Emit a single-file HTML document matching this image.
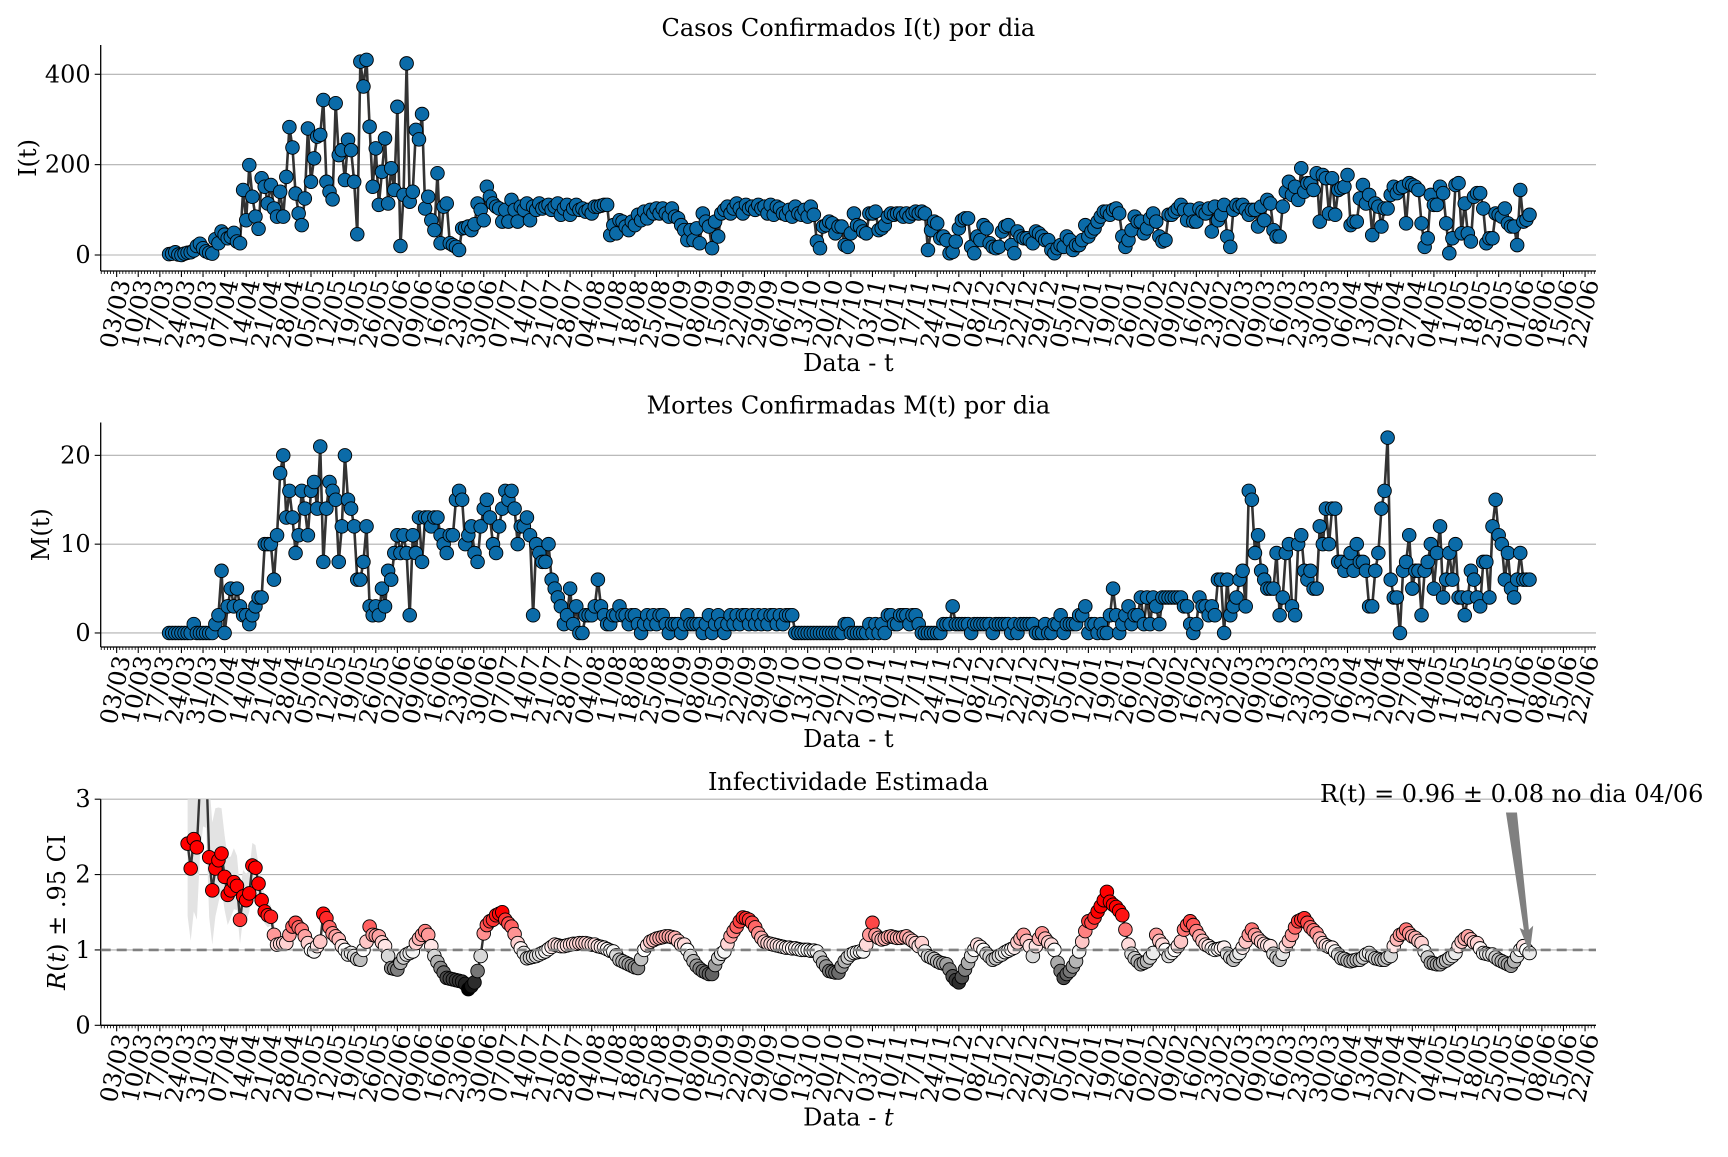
<!DOCTYPE html>
<html><head><meta charset="utf-8"><title>Casos, Mortes e Infectividade</title>
<style>
html,body{margin:0;padding:0;background:#fff;}
svg text{font-family:"DejaVu Serif","Liberation Serif",serif;fill:#000;}
</style></head>
<body>
<svg id="chart" width="1728" height="1152" viewBox="0 0 1728 1152" xmlns="http://www.w3.org/2000/svg">
<defs>
<clipPath id="clip3"><rect x="100.7" y="799.2" width="1496" height="226.1"/></clipPath>
</defs>
<g id="p1"></g>
<g id="p2"></g>
<g id="p3"></g>
</svg>
<script>
// ---- data ----
const startDateLabel = "2020-03-03";
const lastDay = 458; // 04/06/2021, days since 03/03/2020
const cases = [
2,3,6,1,0,3,5,6,10,20,
25,15,8,5,3,35,26,52,45,37,
40,49,30,26,144,77,199,129,85,58,
170,151,114,155,103,85,140,85,173,283,
238,136,92,66,125,280,162,214,262,266,
343,162,140,123,336,221,232,166,255,232,
162,46,428,373,432,284,151,236,111,184,
258,114,192,144,328,20,133,424,118,140,
277,256,312,103,129,77,55,181,26,107,
114,26,22,18,11,59,60,63,55,68,
114,100,77,151,129,114,107,103,74,100,
74,122,100,74,107,100,114,77,107,100,
114,103,107,111,100,107,114,89,103,111,
89,103,111,100,103,96,100,92,107,107,
109,111,111,44,66,48,77,74,63,55,
74,66,89,77,96,81,100,92,103,92,
103,92,85,103,85,81,66,55,33,55,
33,59,26,92,74,63,15,74,41,92,
100,107,92,103,114,103,92,111,103,107,
100,111,103,107,92,111,89,107,103,92,
89,100,85,107,92,89,100,85,107,89,
30,15,63,66,74,70,48,63,63,22,
18,48,92,66,63,52,48,92,92,96,55,
59,66,85,92,89,92,92,85,92,85,
92,96,92,96,92,11,55,74,70,37,
41,33,4,7,30,59,77,81,81,18,
4,41,33,66,59,26,18,15,18,52,
63,66,22,4,52,41,37,37,33,26,
52,48,41,33,33,11,4,15,22,18,
41,33,11,22,22,33,66,41,52,59,
74,85,96,96,89,100,103,92,41,18,
33,55,85,74,74,48,59,81,92,74,
41,30,33,89,89,96,103,111,100,77,
100,74,74,103,96,92,103,52,107,77,
89,111,41,18,100,111,107,111,100,89,
100,100,63,107,77,122,114,55,41,41,
107,140,162,133,151,122,192,140,159,159,
144,181,74,177,170,92,170,89,144,148,
151,177,66,74,74,125,155,114,133,44,
114,107,63,103,103,133,151,137,148,151,
70,159,155,151,144,70,18,37,133,111,
111,151,137,70,4,37,155,159,48,114,
48,30,129,137,137,103,26,37,37,92,
89,85,103,70,63,63,22,144,74,78,89
];
const deaths = [
0,0,0,0,0,0,0,0,1,0,
0,0,0,0,0,1,2,7,0,3,
5,3,5,3,2,2,1,2,3,4,
4,10,10,10,6,11,18,20,13,16,
13,9,11,16,14,11,16,17,14,21,
8,14,17,16,15,8,12,20,15,14,
12,6,6,8,12,3,2,3,2,5,
3,7,6,9,11,9,11,9,2,11,
9,13,8,13,13,12,13,13,11,10,
9,11,11,15,16,15,10,11,12,9,
8,12,14,15,13,10,9,12,14,16,
15,16,14,10,12,12,13,11,2,10,
9,8,8,10,6,5,4,3,1,2,
5,1,3,0,0,2,2,2,3,6,
3,2,1,1,2,2,3,2,2,1,
2,2,1,0,1,2,1,2,1,2,
2,1,0,1,1,1,0,1,2,1,
1,1,1,0,1,2,0,1,2,1,
0,1,2,1,2,1,2,2,1,2,
1,2,1,2,1,2,2,1,2,1,
2,2,2,0,0,0,0,0,0,0,
0,0,0,0,0,0,0,0,0,1,
1,0,0,0,0,0,0,1,0,1,
0,1,0,2,2,1,1,2,2,2,
1,2,2,1,0,0,0,0,0,0,
0,1,1,1,3,1,1,1,1,1,
0,1,1,1,1,1,1,0,1,1,
1,1,1,0,1,0,1,1,1,1,
1,0,0,0,1,0,0,1,1,2,
0,1,1,1,1,2,2,3,0,1,
1,0,1,0,0,2,5,2,0,1,
2,3,1,2,2,4,1,4,1,4,
3,1,4,4,4,4,4,4,4,3,
3,1,0,1,4,3,3,2,3,2,
6,6,0,6,2,3,4,6,7,3,
16,15,9,11,7,6,5,5,5,9,
2,4,9,10,3,2,10,11,7,6,
7,5,5,12,10,14,10,14,14,8,
8,7,8,9,7,10,8,8,7,3,
3,7,9,14,16,22,6,4,4,0,
7,8,11,5,7,7,2,7,8,10,
5,9,12,4,6,9,6,10,4,4,
2,4,7,6,4,3,8,8,4,12,
15,11,10,6,9,5,4,6,9,6,
6,6
];
const rt = [
2.41,2.08,2.47,2.36,3.2,3.6,3.5,2.23,1.79,2.08,
2.19,2.28,1.97,1.73,1.79,1.9,1.85,1.4,1.71,1.66,
1.75,2.12,2.09,1.88,1.66,1.51,1.46,1.44,1.2,1.07,
1.08,1.09,1.09,1.2,1.31,1.36,1.3,1.27,1.18,1.09,
1.0,0.98,1.05,1.11,1.48,1.42,1.3,1.22,1.18,1.14,
1.05,1.0,0.94,0.96,0.92,0.88,0.87,1.0,1.11,1.31,
1.2,1.19,1.18,1.1,1.05,0.92,0.76,0.75,0.74,0.83,
0.9,0.94,0.96,0.98,1.09,1.15,1.2,1.25,1.2,1.05,
0.92,0.84,0.76,0.7,0.63,0.62,0.61,0.6,0.59,0.58,
0.55,0.48,0.52,0.57,0.72,0.92,1.22,1.33,1.38,1.4,
1.46,1.48,1.5,1.4,1.35,1.31,1.21,1.09,1.02,0.96,
0.89,0.9,0.91,0.92,0.94,0.96,0.98,1.01,1.04,1.07,
1.06,1.05,1.05,1.06,1.07,1.08,1.08,1.09,1.09,1.09,
1.08,1.07,1.07,1.05,1.04,1.03,1.01,0.99,0.98,0.93,
0.87,0.85,0.83,0.81,0.79,0.77,0.76,0.88,1.0,1.06,
1.11,1.13,1.15,1.16,1.17,1.18,1.18,1.17,1.16,1.12,
1.07,1.07,1.0,0.92,0.85,0.79,0.75,0.72,0.7,0.68,
0.68,0.8,0.89,0.95,0.98,1.08,1.18,1.25,1.31,1.38,
1.43,1.42,1.4,1.36,1.3,1.22,1.16,1.11,1.09,1.08,
1.07,1.06,1.05,1.04,1.03,1.03,1.02,1.02,1.01,1.0,
1.0,1.0,0.99,0.99,0.98,0.9,0.83,0.78,0.72,0.71,
0.7,0.7,0.78,0.85,0.9,0.94,0.96,0.97,0.98,0.98,
1.07,1.2,1.36,1.2,1.16,1.14,1.15,1.17,1.18,1.17,
1.16,1.16,1.17,1.18,1.15,1.12,1.09,1.05,1.09,0.98,
0.92,0.9,0.88,0.85,0.83,0.82,0.81,0.74,0.65,0.6,
0.57,0.64,0.74,0.83,0.92,1.0,1.07,1.04,1.0,0.95,
0.91,0.87,0.89,0.92,0.94,0.97,0.99,1.01,1.03,1.1,
1.15,1.2,1.12,1.05,0.92,1.05,1.15,1.22,1.15,1.1,
1.07,1.0,0.83,0.72,0.63,0.68,0.72,0.78,0.85,0.98,
1.11,1.25,1.38,1.36,1.43,1.51,1.58,1.66,1.77,1.64,
1.6,1.57,1.52,1.46,1.27,1.07,0.95,0.89,0.85,0.81,
0.83,0.85,0.9,0.96,1.2,1.12,1.07,1.0,0.92,0.96,
1.0,1.05,1.11,1.27,1.33,1.38,1.33,1.25,1.18,1.12,
1.07,1.05,1.02,1.0,1.01,1.02,1.03,0.95,0.9,0.87,
0.92,0.96,1.03,1.11,1.2,1.27,1.2,1.15,1.11,1.08,
1.06,1.05,0.95,0.9,0.87,0.95,1.05,1.12,1.2,1.3,
1.38,1.4,1.42,1.36,1.3,1.26,1.22,1.15,1.09,1.06,
1.04,1.03,0.98,0.94,0.89,0.88,0.86,0.85,0.86,0.87,
0.87,0.9,0.94,0.96,0.92,0.89,0.88,0.87,0.87,0.9,
0.92,1.05,1.14,1.2,1.22,1.27,1.22,1.18,1.16,1.12,
1.09,0.98,0.9,0.83,0.82,0.81,0.81,0.84,0.86,0.89,
0.92,0.96,1.05,1.11,1.15,1.18,1.14,1.1,1.09,1.02,
0.96,0.95,0.94,0.94,0.9,0.87,0.85,0.83,0.81,0.79,
0.85,0.92,1.0,1.05,1.0,0.96
];
const rtCiEarly = [1.2,1.2,1.2,1.2,1.2,1.2,1.1,1.0,0.9,0.8,0.7,0.6,0.55,0.5,0.45,0.45,0.4,0.4,0.35,0.35,0.3,0.3,0.3,0.25,0.25,0.2,0.2,0.15,0.15,0.12];
const rtCiLate = 0.06;
const casesTicks = [0,200,400];
const deathsTicks = [0,10,20];
const rtTicks = [0,1,2,3];
const annotationText = "R(t) = 0.96 \u00b1 0.08 no dia 04/06";

// ---- layout ----
const NS = "http://www.w3.org/2000/svg";
const FS = 24;
const X0 = 100.7, X1 = 1596, D0 = -5.17, D1 = 479.55;
function sx(d){ return X0 + (d - D0) / (D1 - D0) * (X1 - X0); }
const panels = {
  p1:{top:45, bot:271, v0:-35.4, v1:464.8},
  p2:{top:422.5, bot:647, v0:-1.58, v1:23.7},
  p3:{top:799.2, bot:1025.3, v0:0, v1:3}
};
function syF(p){ return v => p.bot - (v - p.v0) / (p.v1 - p.v0) * (p.bot - p.top); }
function el(tag, attrs, parent){
  const e = document.createElementNS(NS, tag);
  for (const k in attrs) e.setAttribute(k, attrs[k]);
  parent.appendChild(e); return e;
}
function dayLabel(d){
  const dt = new Date(startDateLabel + "T00:00:00Z");
  dt.setUTCDate(dt.getUTCDate() + d);
  return String(dt.getUTCDate()).padStart(2,"0") + "/" + String(dt.getUTCMonth()+1).padStart(2,"0");
}

function drawAxes(g, p, yticks, title, ylabelNodes, xlabelItalic){
  const sy = syF(p);
  yticks.forEach(v => {
    const y = sy(v);
    const gl = el("line",{x1:X0,x2:X1,y1:y,y2:y,stroke:"#b0b0b0","stroke-width":1.1},g);
    
    
    el("line",{x1:X0-6,x2:X0,y1:y,y2:y,stroke:"#000","stroke-width":1.1},g);
    const t = el("text",{x:X0-10,y:y,"text-anchor":"end","dominant-baseline":"central","font-size":FS},g);
    t.textContent = v;
    
    
  });
  const ls = el("line",{x1:X0,x2:X0,y1:p.top,y2:p.bot,stroke:"#000","stroke-width":1.3},g);
  
  
  const bs = el("line",{x1:X0,x2:X1,y1:p.bot,y2:p.bot,stroke:"#000","stroke-width":1.3},g);
  
  
  for (let d = -5; d <= 479; d++){
    const x = sx(d);
    const major = (d % 7 === 0 && d >= 0);
    el("line",{x1:x,x2:x,y1:p.bot,y2:p.bot+(major?6:3),stroke:"#000","stroke-width":major?1.1:0.8},g);
    if (major){
      const t = el("text",{"text-anchor":"end","dominant-baseline":"central","font-size":FS,
        transform:`translate(${x+6},${p.bot+9}) rotate(-78)`},g);
      t.textContent = dayLabel(d);
      
      
    }
  }
  const tt = el("text",{x:(X0+X1)/2,y:p.top-9,"text-anchor":"middle","font-size":FS},g);
  tt.textContent = title;
  
  
  const xl = el("text",{x:(X0+X1)/2,y:p.bot+100,"text-anchor":"middle","font-size":FS},g);
  xl.innerHTML = xlabelItalic ? 'Data - <tspan font-style="italic">t</tspan>' : 'Data - t';
  
  
  const yl = el("text",{"text-anchor":"middle","font-size":FS,
     transform:`translate(${ylabelNodes.x},${(p.top+p.bot)/2}) rotate(-90)`},g);
  yl.innerHTML = ylabelNodes.html;
  
  
}

function drawSeries(g, p, vals, fill, name){
  const sy = syF(p);
  const start = lastDay - vals.length + 1;
  let dstr = "";
  vals.forEach((v,i)=>{ dstr += (i?"L":"M") + sx(start+i).toFixed(2) + "," + sy(v).toFixed(2); });
  const line = el("path",{d:dstr,fill:"none",stroke:"#333","stroke-width":2.6,"stroke-linejoin":"round"},g);
  
  
  vals.forEach((v,i)=>{
    const c = el("circle",{cx:sx(start+i),cy:sy(v),r:6.8,fill:fill,stroke:"#000","stroke-width":0.9},g);
    
    
  });
}

const g1 = document.getElementById("p1");
drawAxes(g1, panels.p1, casesTicks, "Casos Confirmados I(t) por dia", {x:36, html:"I(t)"}, false);
drawSeries(g1, panels.p1, cases, "#0b6ba8", "cases");

const g2 = document.getElementById("p2");
drawAxes(g2, panels.p2, deathsTicks, "Mortes Confirmadas M(t) por dia", {x:49, html:"M(t)"}, false);
drawSeries(g2, panels.p2, deaths, "#0b6ba8", "deaths");

// ---- R(t) panel ----
const g3 = document.getElementById("p3");
const p3 = panels.p3, sy3 = syF(p3);
drawAxes(g3, p3, rtTicks, "Infectividade Estimada",
  {x:65, html:'<tspan font-style="italic">R</tspan>(<tspan font-style="italic">t</tspan>) \u00b1 .95 CI'}, true);
const rStart = lastDay - rt.length + 1;
const clipG = el("g",{"clip-path":"url(#clip3)"},g3);
let up = [], lo = [];
rt.forEach((v,i)=>{
  const ci = i < rtCiEarly.length ? rtCiEarly[i] : rtCiLate;
  up.push(sx(rStart+i).toFixed(2)+","+sy3(v+ci).toFixed(2));
  lo.push(sx(rStart+i).toFixed(2)+","+sy3(Math.max(v-ci*0.8,0)).toFixed(2));
});
const band = el("polygon",{points:up.concat(lo.reverse()).join(" "),fill:"#e3e3e3",stroke:"none"},clipG);


const ref = el("line",{x1:X0,x2:X1,y1:sy3(1),y2:sy3(1),stroke:"#808080","stroke-width":2.6,"stroke-dasharray":"10,6"},g3);


let rd = "";
rt.forEach((v,i)=>{ rd += (i?"L":"M")+sx(rStart+i).toFixed(2)+","+sy3(v).toFixed(2); });
const rline = el("path",{d:rd,fill:"none",stroke:"#333","stroke-width":2.4},clipG);


function rColor(v){
  if (v >= 1){
    const t = Math.min((v-1)/0.5,1);
    const gb = Math.round(255*(1-t));
    return `rgb(255,${gb},${gb})`;
  } else {
    const t = Math.min((1-v)/0.52,1);
    const c = Math.round(255*(1-t));
    return `rgb(${c},${c},${c})`;
  }
}
rt.forEach((v,i)=>{
  if (v > 3) return;
  const c = el("circle",{cx:sx(rStart+i),cy:sy3(v),r:6.8,fill:rColor(v),stroke:"#000","stroke-width":0.9},clipG);
  
  
});
const lastX = sx(lastDay), lastY = sy3(rt[rt.length-1]);
const arrow = el("polygon",{points:`${lastX-23},813 ${lastX-13},813 ${lastX-1},${lastY-22} ${lastX+3},${lastY-26} ${lastX},${lastY-2} ${lastX-9},${lastY-24} ${lastX-5},${lastY-22}`,fill:"#808080",stroke:"#808080","stroke-width":1},g3);


const at = el("text",{x:1320,y:802,"font-size":FS},g3);
at.textContent = annotationText;


</script>
</body></html>
